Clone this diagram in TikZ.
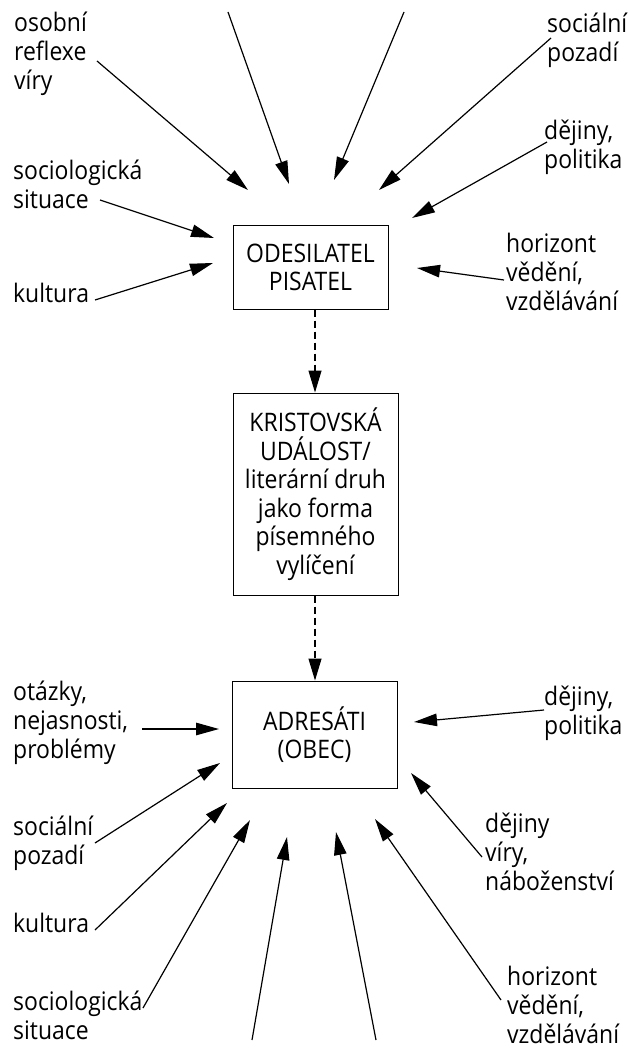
\documentclass[tikz,border=0pt]{standalone}
\usepackage{fontspec}
\setmainfont[FakeStretch=0.9]{Open Sans}
\usetikzlibrary{arrows.meta}
\newcommand\mlines[1]{\begin{tabular}[t]{@{}l@{}}#1\end{tabular}}
\begin{document}
\begin{tikzpicture}[x=1pt,y=-1pt,
  txt/.style={font=\fontsize{25.5}{28.5}\selectfont},
  lab/.style={font=\fontsize{25.5}{29}\selectfont, anchor=base west, inner sep=0pt},
  box/.style={txt, draw, line width=1pt, align=center, inner sep=0pt},
  arr/.style={line width=1.2pt, -{Triangle[length=23pt,width=12.5pt]}},
  darr/.style={line width=1.1pt, dash pattern=on 7pt off 4pt, -{Triangle[length=22pt,width=13pt]}}]
\useasboundingbox (0,0) rectangle (628,1048);

% boxes
\node[box, minimum width=155pt, minimum height=83pt] (snd) at (310.5,267.5) {ODESILATEL\\PISATEL};
\node[box, minimum width=165pt, minimum height=202pt] (evt) at (315.5,494) {KRISTOVSKÁ\\UDÁLOST/\\literární druh\\jako forma\\písemného\\vylíčení};
\node[box, minimum width=165pt, minimum height=107pt] (rcv) at (314.5,734.5) {ADRESÁTI\\(OBEC)};

% dashed flow
\coordinate (dx) at (315,0);
\draw[darr] (snd.south -| dx) -- (evt.north -| dx);
\draw[darr] (evt.south -| dx) -- (rcv.north -| dx);

% top labels
\node[lab] (tl1) at (14,32) {\mlines{osobní\\reflexe\\víry}};
\node[lab] (tl2) at (13,180) {\mlines{sociologická\\situace}};
\node[lab] (tl3) at (13,302) {kultura};
\node[lab] (tr1) at (547,33) {\mlines{sociální\\pozadí}};
\node[lab] (tr2) at (544,140) {\mlines{dějiny,\\politika}};
\node[lab] (tr3) at (506,253) {\mlines{horizont\\vědění,\\vzdělávání}};

% bottom labels
\node[lab] (bl1) at (13,700) {\mlines{otázky,\\nejasnosti,\\problémy}};
\node[lab] (bl2) at (13,835) {\mlines{sociální\\pozadí}};
\node[lab] (bl3) at (13,932) {kultura};
\node[lab] (bl4) at (13,1010) {\mlines{sociologická\\situace}};
\node[lab] (br1) at (544,705) {\mlines{dějiny,\\politika}};
\node[lab] (br2) at (485,832) {\mlines{dějiny\\víry,\\náboženství}};
\node[lab] (br3) at (507,985) {\mlines{horizont\\vědění,\\vzdělávání}};

% arrow end points (top)
\coordinate (a1s) at (97,61);   \coordinate (a1e) at (248,190);
\coordinate (a2s) at (228,12);  \coordinate (a2e) at (289,184);
\coordinate (a3s) at (404,12);  \coordinate (a3e) at (334,180);
\coordinate (a4s) at (551,38);  \coordinate (a4e) at (379,190);
\coordinate (a5s) at (547,142); \coordinate (a5e) at (412,218);
\coordinate (a6s) at (504,280); \coordinate (a6e) at (417,268);
\coordinate (a7s) at (100,200); \coordinate (a7e) at (214,238);
\coordinate (a8s) at (95,300);  \coordinate (a8e) at (213,263);

% arrow end points (bottom)
\coordinate (b1s) at (142,729);  \coordinate (b1e) at (219,729);
\coordinate (b2s) at (95,843);   \coordinate (b2e) at (220,763);
\coordinate (b3s) at (95,930);   \coordinate (b3e) at (227,803);
\coordinate (b4s) at (143,1008); \coordinate (b4e) at (250,820);
\coordinate (b5s) at (252,1040); \coordinate (b5e) at (287,837);
\coordinate (b6s) at (376,1040); \coordinate (b6e) at (336,832);
\coordinate (b7s) at (501,1000); \coordinate (b7e) at (375,819);
\coordinate (b8s) at (482,857);  \coordinate (b8e) at (411,773);
\coordinate (b9s) at (544,710);  \coordinate (b9e) at (414,722);

\foreach \k in {1,...,8} { \draw[arr] (a\k s) -- (a\k e); }
\foreach \k in {1,...,9} { \draw[arr] (b\k s) -- (b\k e); }
\end{tikzpicture}
\end{document}
